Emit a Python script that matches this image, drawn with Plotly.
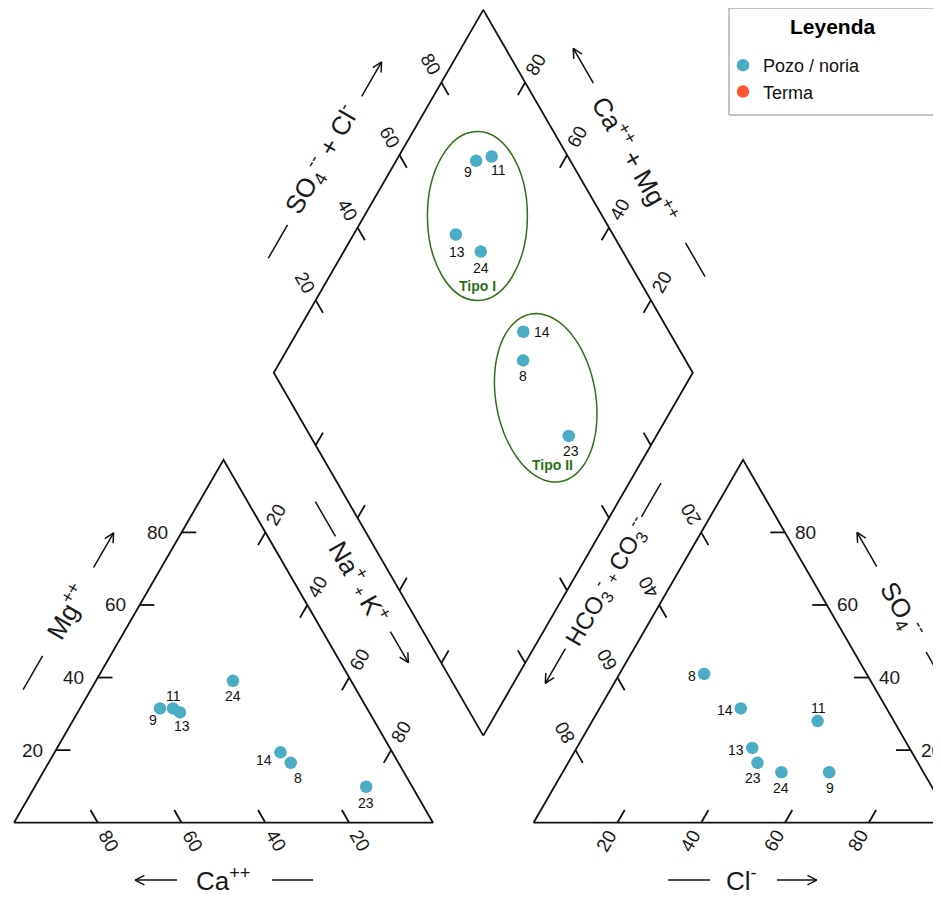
import math
import plotly.graph_objects as go

# ---------------- data (percent of meq) ----------------
samples = ["8", "9", "11", "13", "14", "23", "24"]
ca   = [25.7, 49.4, 46.3, 45.2, 26.7, 11.0, 28.2]
mg   = [16.5, 31.5, 31.5, 30.4, 19.4,  9.9, 39.1]
na_k = [57.8, 19.1, 22.2, 24.4, 53.9, 79.1, 32.7]
hco3 = [38.8, 22.5, 18.2, 37.5, 34.8, 38.3, 33.9]
so4  = [41.0, 13.9, 28.0, 20.6, 31.5, 16.5, 13.9]
cl   = [20.2, 63.6, 53.8, 41.9, 33.7, 45.2, 52.2]
tick_values = [20, 40, 60, 80]
tick_labels = ["20", "40", "60", "80"]
legend_names = ["Pozo / noria", "Terma"]
group_names = ["Tipo I", "Tipo II"]

# ---------------- styling / layout constants ----------------
FONT = "Liberation Sans, Arial, Helvetica, sans-serif"
BLUE = "#4BACC6"
RED = "#FF5733"
GREEN = "#2F6F1A"
H = math.sqrt(3) / 2
GAP = 24.0
XR = 100.0 + GAP
BX, BY = 100.0 + GAP / 2, GAP * H
W, HT = 941, 897
PAGE_OFF = 8          # page body margin of the browser
PXU = 4.19            # pixels per unit
OX, OY = 14 - PAGE_OFF, 822.7 - PAGE_OFF
X_RANGE = [-OX / PXU, (W - OX) / PXU]
Y_RANGE = [(OY - HT) / PXU, OY / PXU]
TL = 3.5      # tick length
LD = 5.0      # rotated tick-label distance


def paper_x(px):
    return (px - PAGE_OFF) / W


def paper_y(py):
    return 1 - (py - PAGE_OFF) / HT


def cation_xy(a, m, n):
    s = a + m + n
    return 100 * n / s + 50 * m / s, 100 * H * m / s


def anion_xy(h, s4, c):
    s = h + s4 + c
    return XR + 100 * c / s + 50 * s4 / s, 100 * H * s4 / s


def diamond_xy(camg, so4cl):
    return BX - 0.5 * camg + 0.5 * so4cl, BY + H * camg + H * so4cl


def add(p, v, k=1.0):
    return (p[0] + k * v[0], p[1] + k * v[1])


frame_x, frame_y = [], []


def poly(points, xs=frame_x, ys=frame_y):
    for p in points:
        xs.append(p[0]); ys.append(p[1])
    xs.append(None); ys.append(None)


# outlines
poly([cation_xy(100, 0, 0), cation_xy(0, 0, 100), cation_xy(0, 100, 0), cation_xy(100, 0, 0)])
poly([anion_xy(100, 0, 0), anion_xy(0, 0, 100), anion_xy(0, 100, 0), anion_xy(100, 0, 0)])
poly([diamond_xy(0, 0), diamond_xy(100, 0), diamond_xy(100, 100), diamond_xy(0, 100), diamond_xy(0, 0)])

annotations = []


def tick_label(p, text, angle=0, xanchor="center"):
    annotations.append(dict(x=p[0], y=p[1], xref="x", yref="y", text=text, showarrow=False,
                            textangle=angle, xanchor=xanchor, yanchor="middle",
                            font=dict(family=FONT, size=19, color="#1a1a1a")))


for v, lab in zip(tick_values, tick_labels):
    # cation triangle
    p = cation_xy(v, 0, 100 - v); poly([p, add(p, (-0.5, H), TL)])
    tick_label(add(p, (0.5, -H), LD), lab, 60)
    p = cation_xy(100 - v, v, 0); poly([p, add(p, (1, 0), TL)])
    tick_label(add(p, (-2.7, 0)), lab, 0, "right")
    p = cation_xy(0, 100 - v, v); poly([p, add(p, (-0.5, -H), TL)])
    tick_label(add(p, (0.5, H), LD), lab, -60)
    # anion triangle
    p = anion_xy(100 - v, 0, v); poly([p, add(p, (0.5, H), TL)])
    tick_label(add(p, (-0.5, -H), LD), lab, -60)
    p = anion_xy(0, v, 100 - v); poly([p, add(p, (-1, 0), TL)])
    tick_label(add(p, (2.0, 0)), lab, 0, "left")
    p = anion_xy(v, 100 - v, 0); poly([p, add(p, (0.5, -H), TL)])
    tick_label(add(p, (-0.5, H), LD), lab, -120)
    # diamond
    p = diamond_xy(100, v); poly([p, add(p, (0.5, -H), TL)])
    tick_label(add(p, (-0.5, H), LD), lab, 60)
    p = diamond_xy(v, 100); poly([p, add(p, (-0.5, -H), TL)])
    tick_label(add(p, (0.5, H), LD), lab, -60)
    p = diamond_xy(v, 0); poly([p, add(p, (0.5, H), TL)])
    p = diamond_xy(0, v); poly([p, add(p, (-0.5, H), TL)])

# ---------------- axis titles with dash + arrow ----------------
deco_x, deco_y = [], []


def axis_title(mid, t, n, text, angle, t_title, n_title, n_seg, dash, arrow, size=26):
    pos = add(add(mid, t, t_title), n, n_title)
    annotations.append(dict(x=pos[0], y=pos[1], xref="x", yref="y", text=text, showarrow=False,
                            textangle=angle, xanchor="center", yanchor="middle",
                            font=dict(family=FONT, size=size, color="#1a1a1a")))
    base = add(mid, n, n_seg)
    poly([add(base, t, dash[0]), add(base, t, dash[1])], deco_x, deco_y)
    tail, head = add(base, t, arrow[0]), add(base, t, arrow[1])
    poly([tail, head], deco_x, deco_y)
    L, th = 2.5, math.radians(27)
    for sgn in (1, -1):
        c, s = math.cos(sgn * th), math.sin(sgn * th)
        bd = (t[0] * c - t[1] * s, t[0] * s + t[1] * c)
        poly([head, add(head, bd, -L)], deco_x, deco_y)


small_plus = "<span style='font-size:16px'> + </span>"
axis_title((25, 50 * H), (0.5, H), (-H, 0.5), "Mg<sup>++</sup>", -60, 0, 14.3, 14.0, (-21.4, -12.1), (12.2, 21.8))
axis_title((50, 0), (-1, 0), (0, -1), "Ca<sup>++</sup>", 0, 0, 13.6, 13.7, (-21.4, -11.6), (11.1, 21.1))
axis_title((75, 50 * H), (0.5, -H), (H, 0.5), "Na<sup>+</sup>" + small_plus + "K<sup>+</sup>", 60,
           -8.6, 13.4, 14.0, (-30.4, -20.8), (5.4, 14.0))
axis_title((XR + 50, 0), (1, 0), (0, -1), "Cl<sup>-</sup>", 0, -0.3, 13.6, 13.7, (-17.9, -7.9), (8.1, 17.6))
axis_title((XR + 75, 50 * H), (-0.5, H), (H, 0.5), "SO<sub>4</sub><sup>--</sup>", 60, 0, 14.9, 14.9,
           (-21.4, -11.6), (12.0, 21.4))
axis_title((XR + 25, 50 * H), (-0.5, -H), (-H, 0.5),
           "HCO<sub>3</sub><sup>-</sup>" + small_plus + "CO<sub>3</sub><sup>--</sup>", -60,
           -8.6, 13.5, 14.2, (-35.4, -26.1), (10.2, 19.8), size=24)
mid_ul = diamond_xy(100, 50)
axis_title(mid_ul, (0.5, H), (-H, 0.5), "SO<sub>4</sub><sup>--</sup> + Cl<sup>-</sup>", -60,
           -0.3, 15.5, 14.8, (-27.0, -17.8), (17.6, 27.1))
mid_ur = diamond_xy(50, 100)
axis_title(mid_ur, (-0.5, H), (H, 0.5), "Ca<sup>++</sup> + Mg<sup>++</sup>", 60,
           0.9, 13.45, 14.0, (-31.6, -22.3), (21.7, 31.3))

# ---------------- sample points ----------------
cat_pts = [cation_xy(a, m, n) for a, m, n in zip(ca, mg, na_k)]
an_pts = [anion_xy(h, s, c) for h, s, c in zip(hco3, so4, cl)]
dia_pts = []
for a, m, n, h, s, c in zip(ca, mg, na_k, hco3, so4, cl):
    camg = 100 * (a + m) / (a + m + n)
    so4cl = 100 * (s + c) / (h + s + c)
    dia_pts.append(diamond_xy(camg, so4cl))

# label offsets in pixels (xshift, yshift)
label_shift = {
    "cat": {"8": (7, -15), "9": (-7, -12), "11": (0, 12), "13": (2, -14),
            "14": (-16, -8), "23": (0, -16), "24": (0, -15)},
    "an": {"8": (-12, -2), "9": (1, -16), "11": (1, 13), "13": (-16, -2),
           "14": (-16, -2), "23": (-5, -15), "24": (0, -16)},
    "dia": {"8": (0, -16), "9": (-8, -11), "11": (7, -14), "13": (1, -17),
            "14": (19, 0), "23": (2, -15), "24": (0, -16)},
}
for key, pts in (("cat", cat_pts), ("an", an_pts), ("dia", dia_pts)):
    for sname, p in zip(samples, pts):
        dx, dy = label_shift[key][sname]
        annotations.append(dict(x=p[0], y=p[1], xref="x", yref="y", text=sname, showarrow=False,
                                xshift=dx, yshift=dy, xanchor="center", yanchor="middle",
                                font=dict(family=FONT, size=14, color="#111")))

all_x = [p[0] for p in cat_pts + an_pts + dia_pts]
all_y = [p[1] for p in cat_pts + an_pts + dia_pts]

# ---------------- group ellipses ----------------
shapes = []
c1, r1 = (110.6, 144.8), (11.93, 20.17)
shapes.append(dict(type="circle", xref="x", yref="y", x0=c1[0] - r1[0], x1=c1[0] + r1[0],
                   y0=c1[1] - r1[1], y1=c1[1] + r1[1], line=dict(color=GREEN, width=1.5)))
c2, a2, b2, rot = (126.9, 101.4), 20.3, 11.9, math.radians(10)
pts = []
for i in range(0, 121):
    tt = 2 * math.pi * i / 120
    u, w = b2 * math.cos(tt), a2 * math.sin(tt)
    x = c2[0] + u * math.cos(rot) - w * math.sin(rot)
    y = c2[1] + u * math.sin(rot) + w * math.cos(rot)
    pts.append(f"{x:.3f},{y:.3f}")
shapes.append(dict(type="path", xref="x", yref="y", path="M" + " L".join(pts) + " Z",
                   line=dict(color=GREEN, width=1.5)))
for name, pos in zip(group_names, [(110.5, 128.0), (128.6, 85.4)]):
    annotations.append(dict(x=pos[0], y=pos[1], xref="x", yref="y", text=f"<b>{name}</b>",
                            showarrow=False, font=dict(family=FONT, size=14, color=GREEN)))

# legend box + title
shapes.append(dict(type="rect", xref="paper", yref="paper", x0=paper_x(729), x1=1.05,
                   y0=paper_y(115), y1=paper_y(8), line=dict(color="#8a8a8a", width=1),
                   fillcolor="white", layer="below"))
annotations.append(dict(x=paper_x(833), y=paper_y(27), xref="paper", yref="paper",
                        text="<b>Leyenda</b>", showarrow=False, xanchor="center", yanchor="middle",
                        font=dict(family=FONT, size=21, color="#000")))

fig = go.Figure()
fig.add_trace(go.Scatter(x=frame_x, y=frame_y, mode="lines", line=dict(color="#111", width=1.8),
                         hoverinfo="skip", showlegend=False))
fig.add_trace(go.Scatter(x=deco_x, y=deco_y, mode="lines", line=dict(color="#111", width=1.5),
                         hoverinfo="skip", showlegend=False))
fig.add_trace(go.Scatter(x=all_x, y=all_y, mode="markers", name=legend_names[0],
                         marker=dict(color=BLUE, size=12.5)))
fig.add_trace(go.Scatter(x=[None], y=[None], mode="markers", name=legend_names[1],
                         marker=dict(color=RED, size=12.5)))

fig.update_layout(
    width=W, height=HT,
    margin=dict(l=0, r=0, t=0, b=0, pad=0, autoexpand=False),
    paper_bgcolor="white", plot_bgcolor="white",
    xaxis=dict(range=X_RANGE, visible=False, fixedrange=True),
    yaxis=dict(range=Y_RANGE, visible=False, fixedrange=True),
    shapes=shapes,
    annotations=annotations,
    showlegend=True,
    legend=dict(x=paper_x(723), y=paper_y(47), xanchor="left", yanchor="top",
                bgcolor="rgba(0,0,0,0)", borderwidth=0,
                font=dict(family=FONT, size=18, color="#111"), tracegroupgap=0),
)
fig.write_html("out.html")
